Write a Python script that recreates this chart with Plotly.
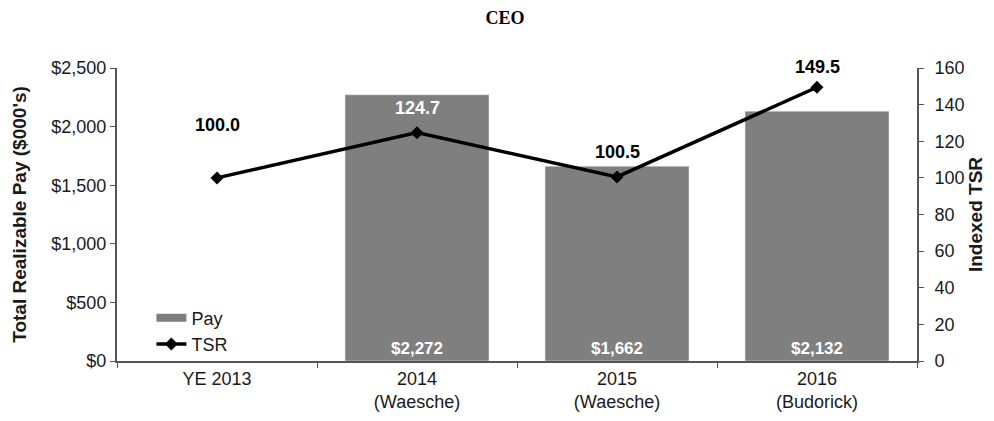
import plotly.graph_objects as go

categories = ["YE 2013", "2014<br>(Waesche)", "2015<br>(Waesche)", "2016<br>(Budorick)"]
pay = [None, 2272, 1662, 2132]
pay_labels = ["", "$2,272", "$1,662", "$2,132"]
tsr = [100.0, 124.7, 100.5, 149.5]
tsr_labels = ["100.0", "124.7", "100.5", "149.5"]

FONT = "Liberation Sans, Arial, sans-serif"
BAR = "#7f7f7f"
AX = "#555555"

fig = go.Figure()
fig.add_trace(go.Bar(
    x=categories, y=pay, name="Pay", marker_color=BAR, width=0.72, showlegend=False,
    text=["<b>" + t + "</b>" if t else "" for t in pay_labels],
    textposition="inside", insidetextanchor="start",
    textfont=dict(color="white", size=17, family=FONT), textangle=0,
    cliponaxis=False,
))
# legend entry for the bars (wide swatch like the reference)
fig.add_trace(go.Scatter(
    x=[None], y=[None], name="Pay", mode="lines",
    line=dict(color=BAR, width=8), showlegend=True,
))
fig.add_trace(go.Scatter(
    x=categories, y=tsr, name="TSR", yaxis="y2", mode="lines+markers",
    line=dict(color="black", width=3.5),
    marker=dict(symbol="diamond", size=10, color="black"),
))

label_colors = ["black", "white", "black", "black"]
label_shift = [53, 25, 25, 20]
for c, v, t, col, s in zip(categories, tsr, tsr_labels, label_colors, label_shift):
    fig.add_annotation(x=c, y=v, yref="y2", text="<b>" + t + "</b>", showarrow=False,
                       yshift=s, font=dict(color=col, size=18, family=FONT))

fig.update_layout(
    width=994, height=421,
    margin=dict(l=109, r=85, t=60, b=68, autoexpand=False),
    paper_bgcolor="white", plot_bgcolor="white",
    font=dict(family=FONT, size=18, color="#1a1a1a"),
    title=dict(text="<b>CEO</b>", x=0.5, xanchor="center", y=0.977, yanchor="middle",
               font=dict(family="Liberation Serif, Times New Roman, serif", size=18, color="black")),
    showlegend=True,
    legend=dict(x=0.043, y=-0.005, xanchor="left", yanchor="bottom", bgcolor="rgba(0,0,0,0)",
                font=dict(size=18, family=FONT), tracegroupgap=0, itemwidth=30,
                traceorder="normal"),
    xaxis=dict(type="category", showline=True, linecolor=AX, linewidth=2,
               ticks="outside", tickson="boundaries", ticklen=5, tickcolor=AX,
               tickfont=dict(size=18), showgrid=False, automargin=False),
    yaxis=dict(range=[0, 2500], tickvals=[0, 500, 1000, 1500, 2000, 2500],
               ticktext=["$0", "$500", "$1,000", "$1,500", "$2,000", "$2,500"],
               showline=True, linecolor=AX, linewidth=2, ticks="outside", ticklen=5,
               tickcolor=AX, showgrid=False, zeroline=False, tickfont=dict(size=18),
               automargin=False,
               title=dict(text="<b>Total Realizable Pay ($000's)</b>", font=dict(size=19), standoff=20)),
    yaxis2=dict(range=[0, 160], dtick=20, overlaying="y", side="right",
                showline=True, linecolor=AX, linewidth=2, ticks="outside", ticklen=5,
                tickcolor=AX, showgrid=False, zeroline=False, tickfont=dict(size=18),
                ticklabelstandoff=7, automargin=False,
                title=dict(text="<b>Indexed TSR</b>", font=dict(size=19), standoff=4)),
)

fig.write_html("out.html")
